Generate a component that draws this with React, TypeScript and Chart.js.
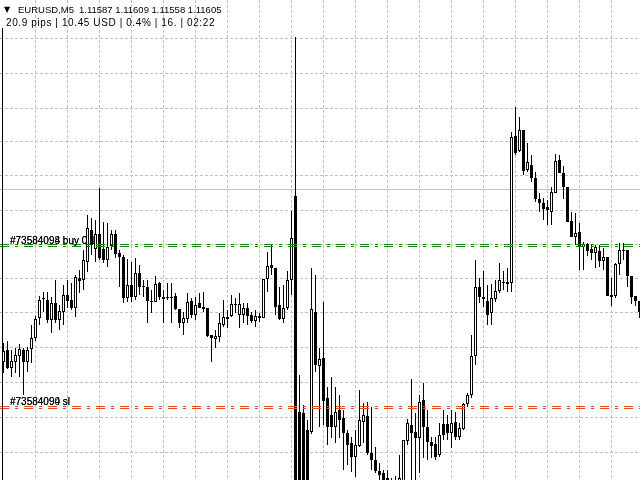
import React, { useEffect, useRef } from "react";
import { Chart, registerables } from "chart.js";

Chart.register(...registerables);

// ---- chart values (EURUSD M5) ----
const opens = [
  1.10952, 1.11000, 1.10928, 1.10952, 1.10976, 1.11000, 1.10952, 1.11004, 1.11048, 1.11128,
  1.11208, 1.11200, 1.11120, 1.11188, 1.11120, 1.11152, 1.11220, 1.11200, 1.11168, 1.11288,
  1.11280, 1.11352, 1.11480, 1.11404, 1.11464, 1.11404, 1.11360, 1.11416, 1.11464, 1.11388,
  1.11372, 1.11208, 1.11260, 1.11212, 1.11308, 1.11256, 1.11252, 1.11196, 1.11192, 1.11268,
  1.11212, 1.11212, 1.11212, 1.11216, 1.11164, 1.11108, 1.11124, 1.11196, 1.11140, 1.11188,
  1.11172, 1.11168, 1.11060, 1.11044, 1.11052, 1.11100, 1.11124, 1.11136, 1.11184, 1.11140,
  1.11140, 1.11168, 1.11140, 1.11116, 1.11136, 1.11128, 1.11284, 1.11340, 1.11328, 1.11180,
  1.11124, 1.11168, 1.11280, 1.11616, 1.10752, 1.10748, 1.10680, 1.10672, 1.11152, 1.10936,
  1.10968, 1.10808, 1.10740, 1.10692, 1.10760, 1.10728, 1.10668, 1.10628, 1.10572, 1.10616,
  1.10712, 1.10736, 1.10588, 1.10560, 1.10516, 1.10508, 1.10488, 1.10432, 1.10448, 1.10440,
  1.10460, 1.10636, 1.10700, 1.10672, 1.10648, 1.10800, 1.10692, 1.10632, 1.10624, 1.10580,
  1.10704, 1.10704, 1.10668, 1.10712, 1.10652, 1.10684, 1.10784, 1.10820, 1.10976, 1.11252,
  1.11212, 1.11196, 1.11148, 1.11204, 1.11236, 1.11272, 1.11272, 1.11268, 1.11856, 1.11796,
  1.11880, 1.11720, 1.11740, 1.11688, 1.11604, 1.11588, 1.11572, 1.11552, 1.11628, 1.11760,
  1.11708, 1.11652, 1.11516, 1.11452, 1.11472, 1.11412, 1.11424, 1.11404, 1.11388, 1.11396,
  1.11356, 1.11372, 1.11212, 1.11216, 1.11344, 1.11400, 1.11400, 1.11296, 1.11216, 1.11196,
];

const closes = [
  1.10996, 1.10928, 1.10956, 1.10980, 1.11004, 1.10952, 1.11000, 1.11048, 1.11124, 1.11200,
  1.11204, 1.11120, 1.11188, 1.11120, 1.11156, 1.11220, 1.11196, 1.11168, 1.11292, 1.11276,
  1.11360, 1.11488, 1.11420, 1.11464, 1.11368, 1.11360, 1.11412, 1.11464, 1.11384, 1.11372,
  1.11208, 1.11260, 1.11212, 1.11308, 1.11252, 1.11252, 1.11196, 1.11192, 1.11264, 1.11212,
  1.11204, 1.11208, 1.11208, 1.11164, 1.11108, 1.11128, 1.11192, 1.11140, 1.11180, 1.11168,
  1.11164, 1.11056, 1.11048, 1.11056, 1.11108, 1.11132, 1.11132, 1.11184, 1.11180, 1.11184,
  1.11168, 1.11136, 1.11116, 1.11136, 1.11128, 1.11284, 1.11336, 1.11328, 1.11172, 1.11124,
  1.11168, 1.11280, 1.11448, 1.10440, 1.10440, 1.10440, 1.10440, 1.11164, 1.10940, 1.10964,
  1.10796, 1.10692, 1.10692, 1.10752, 1.10720, 1.10668, 1.10620, 1.10572, 1.10620, 1.10720,
  1.10740, 1.10588, 1.10560, 1.10516, 1.10500, 1.10460, 1.10440, 1.10460, 1.10472, 1.10488,
  1.10640, 1.10708, 1.10668, 1.10648, 1.10792, 1.10692, 1.10632, 1.10616, 1.10572, 1.10660,
  1.10660, 1.10668, 1.10708, 1.10652, 1.10688, 1.10784, 1.10820, 1.10976, 1.11252, 1.11212,
  1.11204, 1.11140, 1.11208, 1.11236, 1.11280, 1.11268, 1.11264, 1.11852, 1.11788, 1.11880,
  1.11716, 1.11752, 1.11688, 1.11604, 1.11588, 1.11564, 1.11560, 1.11632, 1.11756, 1.11708,
  1.11652, 1.11512, 1.11452, 1.11468, 1.11412, 1.11424, 1.11396, 1.11388, 1.11412, 1.11356,
  1.11372, 1.11216, 1.11220, 1.11344, 1.11400, 1.11396, 1.11296, 1.11212, 1.11196, 1.11152,
];

const highs = [
  1.11028, 1.11036, 1.11000, 1.11008, 1.11024, 1.11008, 1.11012, 1.11100, 1.11136, 1.11216,
  1.11232, 1.11232, 1.11212, 1.11280, 1.11180, 1.11260, 1.11280, 1.11268, 1.11300, 1.11320,
  1.11400, 1.11540, 1.11528, 1.11520, 1.11648, 1.11512, 1.11508, 1.11480, 1.11480, 1.11400,
  1.11380, 1.11364, 1.11352, 1.11368, 1.11340, 1.11280, 1.11280, 1.11240, 1.11296, 1.11272,
  1.11240, 1.11268, 1.11268, 1.11228, 1.11164, 1.11152, 1.11228, 1.11208, 1.11212, 1.11228,
  1.11232, 1.11168, 1.11060, 1.11080, 1.11148, 1.11200, 1.11160, 1.11220, 1.11208, 1.11228,
  1.11188, 1.11188, 1.11152, 1.11160, 1.11148, 1.11284, 1.11392, 1.11424, 1.11328, 1.11252,
  1.11260, 1.11316, 1.11556, 1.12252, 1.10900, 1.10780, 1.10720, 1.11328, 1.11300, 1.11008,
  1.11192, 1.10852, 1.10892, 1.10852, 1.10820, 1.10760, 1.10680, 1.10652, 1.10680, 1.10840,
  1.10788, 1.10792, 1.10772, 1.10612, 1.10548, 1.10520, 1.10520, 1.10488, 1.10496, 1.10580,
  1.10640, 1.10724, 1.10884, 1.10748, 1.10820, 1.10868, 1.10760, 1.10652, 1.10652, 1.10708,
  1.10760, 1.10740, 1.10760, 1.10752, 1.10708, 1.10788, 1.10828, 1.11060, 1.11360, 1.11288,
  1.11316, 1.11260, 1.11264, 1.11280, 1.11348, 1.11316, 1.11328, 1.11872, 1.11972, 1.11932,
  1.11880, 1.11828, 1.11780, 1.11712, 1.11628, 1.11608, 1.11600, 1.11652, 1.11784, 1.11780,
  1.11736, 1.11652, 1.11552, 1.11548, 1.11508, 1.11432, 1.11428, 1.11420, 1.11420, 1.11420,
  1.11408, 1.11372, 1.11288, 1.11348, 1.11428, 1.11428, 1.11400, 1.11296, 1.11216, 1.11196,
];

const lows = [
  1.10908, 1.10924, 1.10892, 1.10908, 1.10892, 1.10820, 1.10912, 1.10948, 1.11036, 1.11100,
  1.11152, 1.11108, 1.11068, 1.11108, 1.11080, 1.11100, 1.11168, 1.11160, 1.11132, 1.11228,
  1.11240, 1.11312, 1.11380, 1.11352, 1.11360, 1.11348, 1.11332, 1.11400, 1.11368, 1.11252,
  1.11188, 1.11192, 1.11192, 1.11200, 1.11220, 1.11212, 1.11108, 1.11148, 1.11192, 1.11200,
  1.11108, 1.11200, 1.11108, 1.11160, 1.11088, 1.11060, 1.11108, 1.11128, 1.11120, 1.11168,
  1.11152, 1.11052, 1.10952, 1.11008, 1.11032, 1.11092, 1.11088, 1.11132, 1.11148, 1.11088,
  1.11108, 1.11100, 1.11108, 1.11092, 1.11112, 1.11128, 1.11232, 1.11300, 1.11140, 1.11120,
  1.11108, 1.11160, 1.11220, 1.10400, 1.10400, 1.10400, 1.10400, 1.10664, 1.10912, 1.10692,
  1.10700, 1.10620, 1.10648, 1.10628, 1.10648, 1.10520, 1.10540, 1.10512, 1.10492, 1.10612,
  1.10628, 1.10580, 1.10520, 1.10508, 1.10480, 1.10440, 1.10420, 1.10400, 1.10420, 1.10420,
  1.10440, 1.10620, 1.10460, 1.10460, 1.10508, 1.10568, 1.10560, 1.10568, 1.10560, 1.10572,
  1.10640, 1.10640, 1.10608, 1.10640, 1.10640, 1.10680, 1.10772, 1.10808, 1.10940, 1.11188,
  1.11172, 1.11100, 1.11100, 1.11192, 1.11228, 1.11240, 1.11232, 1.11232, 1.11780, 1.11792,
  1.11700, 1.11712, 1.11672, 1.11592, 1.11552, 1.11520, 1.11500, 1.11500, 1.11628, 1.11708,
  1.11604, 1.11512, 1.11452, 1.11420, 1.11320, 1.11320, 1.11376, 1.11360, 1.11328, 1.11332,
  1.11320, 1.11216, 1.11176, 1.11208, 1.11300, 1.11360, 1.11252, 1.11184, 1.11176, 1.11128,
];

// horizontal grid levels and vertical grid bars (every 8 bars)
const gridPrices = [
  1.12246, 1.12106, 1.11966, 1.11834, 1.11698, 1.11558, 1.11422,
  1.11286, 1.11150, 1.11010, 1.10870, 1.10730, 1.10590,
];
const gridBars = [8, 16, 24, 32, 40, 48, 56, 64, 72, 80, 88, 96, 104, 112, 120, 128, 136, 144, 152];

const priceTop = 1.124;
const priceBottom = 1.1048;
const bidPrice = 1.11642;
const buyPrices = [1.11422, 1.11414];
const slPrices = [1.10774, 1.10766];

const symbolText = "EURUSD,M5";
const ohlcText = "1.11587 1.11609 1.11558 1.11605";
const infoText = "20.9 pips | 10.45 USD | 0.4% | 16. | 02:22";
const buyLabels = ["#73584098 buy 0.1", "#73584094 buy 0.1"];
const slLabels = ["#73584090 sl", "#73584094 sl"];

const FONT = '10px "Liberation Sans", Arial, sans-serif';

export default function App() {
  const canvasRef = useRef<HTMLCanvasElement | null>(null);

  useEffect(() => {
    const canvas = canvasRef.current;
    if (!canvas) return;

    const bull = opens.map((o, i) => closes[i] > o);
    const wickData = opens.map((_, i) => ({ x: i, y: [lows[i], highs[i]] }));
    const bodyData = opens.map((o, i) => ({ x: i, y: [o, closes[i]] }));
    const xMin = -0.875;
    const xMax = 159.125;

    const hLine = (price: number, color: string, dash: number[] | undefined, order: number) => ({
      type: "line" as const,
      data: [
        { x: xMin, y: price },
        { x: xMax, y: price },
      ],
      borderColor: color,
      borderWidth: 1,
      borderDash: dash,
      pointRadius: 0,
      tension: 0,
      order,
    });

    const overlay = {
      id: "overlay",
      afterDatasetsDraw(chart: any) {
        const ctx = chart.ctx as CanvasRenderingContext2D;
        const yScale = chart.scales.y;
        ctx.save();
        ctx.fillStyle = "#000";
        ctx.fillRect(2, 28, 1, 452);
        ctx.textBaseline = "alphabetic";
        ctx.textAlign = "left";
        ctx.font = '8px "DejaVu Sans", sans-serif';
        ctx.fillText("▼", 4, 12);
        ctx.font = '9.5px "Liberation Sans", Arial, sans-serif';
        ctx.fillText(symbolText, 18, 13);
        ctx.fillText(ohlcText, 79, 13);
        ctx.font = FONT;
        (ctx as any).letterSpacing = "0.6px";
        ctx.fillText(infoText, 6, 26);
        (ctx as any).letterSpacing = "0px";
        const by = yScale.getPixelForValue(buyPrices[0]);
        buyLabels.forEach((t) => ctx.fillText(t, 10, by - 1));
        const sy = yScale.getPixelForValue(slPrices[0]);
        slLabels.forEach((t) => ctx.fillText(t, 10, sy - 2));
        ctx.restore();
      },
    };

    const chart = new Chart(canvas, {
      type: "bar",
      data: {
        datasets: [
          hLine(bidPrice, "#c0c0c0", undefined, 5) as any,
          {
            type: "bar",
            data: wickData as any,
            backgroundColor: "#000",
            borderWidth: 0,
            barThickness: 1,
            grouped: false,
            inflateAmount: 0,
            order: 4,
          },
          {
            type: "bar",
            data: bodyData as any,
            backgroundColor: bull.map((b) => (b ? "#ffffff" : "#000000")),
            borderColor: "#000",
            borderWidth: bull.map((b) => (b ? 1 : 0)),
            borderSkipped: false,
            barThickness: 3,
            grouped: false,
            inflateAmount: 0,
            order: 3,
          },
          hLine(buyPrices[0], "#0a8a0a", [9, 6, 3, 6], 1) as any,
          hLine(buyPrices[1], "#0a8a0a", [9, 6, 3, 6], 1) as any,
          hLine(slPrices[0], "#e0501e", [9, 6, 3, 6], 1) as any,
          hLine(slPrices[1], "#e0501e", [9, 6, 3, 6], 1) as any,
        ],
      },
      options: {
        responsive: false,
        animation: false,
        events: [],
        layout: { padding: 0 },
        plugins: { legend: { display: false }, tooltip: { enabled: false } },
        scales: {
          x: {
            type: "linear",
            min: xMin,
            max: xMax,
            offset: false,
            ticks: { display: false },
            grid: { color: "#c0c0c0", lineWidth: 1, drawTicks: false, offset: false, borderDash: [3, 2] } as any,
            border: { display: false, dash: [3, 2] },
            afterBuildTicks: (s: any) => {
              s.ticks = gridBars.map((v) => ({ value: v }));
            },
            afterFit: (s: any) => {
              s.height = 0;
            },
          },
          y: {
            type: "linear",
            min: priceBottom,
            max: priceTop,
            ticks: { display: false },
            grid: { color: "#c0c0c0", lineWidth: 1, drawTicks: false, borderDash: [3, 2] } as any,
            border: { display: false, dash: [3, 2] },
            afterBuildTicks: (s: any) => {
              s.ticks = gridPrices.map((v) => ({ value: v }));
            },
            afterFit: (s: any) => {
              s.width = 0;
            },
          },
        },
      },
      plugins: [overlay],
    });

    return () => chart.destroy();
  }, []);

  return (
    <div style={{ position: "fixed", left: 0, top: 0, width: 640, height: 480, background: "#fff" }}>
      <canvas ref={canvasRef} width={640} height={480} style={{ display: "block" }} />
    </div>
  );
}
